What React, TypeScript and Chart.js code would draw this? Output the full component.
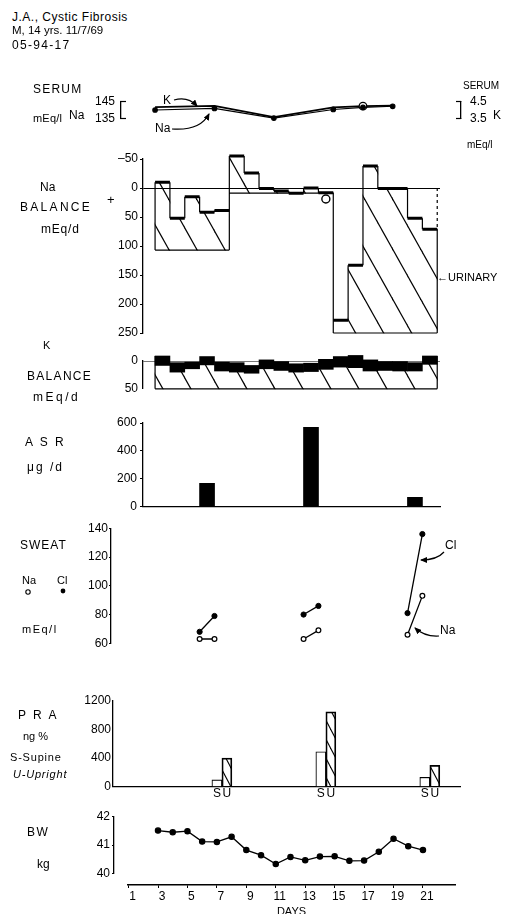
import React, { useEffect, useRef } from 'react';
import { Chart, registerables } from 'chart.js';

Chart.register(...registerables);

const W = 506;
const H = 914;
const FONT = '"Liberation Sans", "DejaVu Sans", Arial, sans-serif';

// ---------------- data ----------------
const SERUM_DAYS = [2.5, 6.5, 10.5, 14.5, 16.5, 18.5];
const SERUM_NA = [140.0, 140.9, 135.4, 140.3, 141.5, 142.1];
const SERUM_K = [4.16, 4.23, 3.6, 4.15, 4.22, 4.25];
const SERUM_CIRCLED = 4;
const SERUM_NA_TICKS = [135, 145];
const SERUM_K_TICKS = [3.5, 4.5];

const BAL_DAYS = [3, 4, 5, 6, 7, 8, 9, 10, 11, 12, 13, 14, 15, 16, 17, 18, 19, 20, 21];
const NA_TOP = [-10, 52, 15, 42, 39, -55, -26, 1, 5, 9, 0, 8, 228, 133, -38, 1, 1, 52, 71];
const NA_BOTTOM = [107, 107, 107, 107, 107, 9, 9, 9, 9, 9, 9, 9, 250, 250, 250, 250, 250, 250, 250];
const NA_MARK_DAYS = [14];
const NA_MARK_VALUES = [19];
const NA_TICKS = [-50, 0, 50, 100, 150, 200, 250];

const K_TOP = [-9, 3, 2, -8, 2, 3, 8, -2, 1, 5, 4, -3, -8, -10, -2, 1, 1, 3, -9];
const K_BOTTOM = [8, 20, 14, 7, 18, 20, 22, 14, 17, 20, 19, 15, 11, 12, 18, 17, 18, 18, 6];
const K_FLOOR = 50;
const K_TICKS = [0, 50];

const ASR_DAYS = [6, 13, 20];
const ASR_VALUES = [168, 569, 67];
const ASR_TICKS = [0, 200, 400, 600];

const SWEAT_DAYS = [5.5, 6.5, 12.5, 13.5, 19.5, 20.5];
const SWEAT_CL = [68, 79, 80, 86, 81, 136];
const SWEAT_NA = [63, 63, 63, 69, 66, 93];
const SWEAT_TICKS = [60, 80, 100, 120, 140];

const PRA_DAYS = [7, 14, 21];
const PRA_SUPINE = [95, 490, 130];
const PRA_UPRIGHT = [400, 1050, 300];
const PRA_TAGS = ['S', 'U'];
const PRA_TICKS = [0, 400, 800, 1200];

const BW_DAYS = [3, 4, 5, 6, 7, 8, 9, 10, 11, 12, 13, 14, 15, 16, 17, 18, 19, 20, 21];
const BW_KG = [41.51, 41.45, 41.49, 41.12, 41.11, 41.29, 40.82, 40.64, 40.33, 40.58, 40.46, 40.59, 40.6, 40.44, 40.45, 40.76, 41.22, 40.96, 40.82];
const BW_TICKS = [40, 41, 42];
const DAY_TICKS = [1, 3, 5, 7, 9, 11, 13, 15, 17, 19, 21];

// ---------------- layout ----------------
const MAIN = { x0: 162.5, xs: 14.85 };
const BWMAP = { x0: 158, xs: 14.72 };
const dayAt = (px: number, m: any) => 3 + (px - m.x0) / m.xs;

const G_SERUM = { top: 80, height: 60, left: 121, right: 461, plotTop: 100, plotBottom: 128, map: MAIN, rightAxis: true };
const G_NA = { top: 148, height: 197, left: 143, right: 440, plotTop: 159, plotBottom: 333, map: MAIN };
const G_K = { top: 348, height: 52, left: 143, right: 440, plotTop: 361, plotBottom: 390, map: MAIN };
const G_ASR = { top: 412, height: 106, left: 143, right: 440, plotTop: 423, plotBottom: 506.7, map: MAIN };
const G_SWEAT = { top: 518, height: 137, left: 111, right: 460, plotTop: 528.3, plotBottom: 643.3, map: MAIN };
const G_PRA = { top: 690, height: 112, left: 113, right: 460, plotTop: 701, plotBottom: 786.7, map: MAIN };
const G_BW = { top: 805, height: 79, left: 114, right: 460, plotTop: 816.7, plotBottom: 873.3, map: BWMAP };
const G_DAYS = { top: 875, height: 44, left: 128, right: 455, plotTop: 875, plotBottom: 885, map: BWMAP };

function makeHatch(w: number, h: number, lw: number) {
  const c = document.createElement('canvas');
  c.width = w;
  c.height = h;
  const ctx = c.getContext('2d')!;
  ctx.strokeStyle = '#000';
  ctx.lineWidth = lw;
  for (const k of [-1, 0, 1]) {
    ctx.beginPath();
    ctx.moveTo(k * w - w, -h);
    ctx.lineTo(k * w + 2 * w, 2 * h);
    ctx.stroke();
  }
  return ctx.createPattern(c, 'repeat')!;
}

function baseOptions(g: any, scales: any) {
  return {
    responsive: false,
    maintainAspectRatio: false,
    animation: false,
    events: [],
    layout: {
      padding: {
        left: 0,
        right: g.rightAxis ? 0 : W - g.right,
        top: g.plotTop - g.top,
        bottom: g.top + g.height - g.plotBottom,
      },
    },
    plugins: { legend: { display: false }, tooltip: { enabled: false }, title: { display: false } },
    scales,
  };
}

function yAxis(g: any, ticks: number[], o: any = {}) {
  return {
    type: 'linear',
    position: 'left',
    min: Math.min(...ticks),
    max: Math.max(...ticks),
    reverse: !!o.reverse,
    afterFit: (s: any) => { s.width = g.left; },
    afterBuildTicks: (s: any) => { s.ticks = ticks.map((v) => ({ value: v })); },
    border: { display: true, color: '#000', width: 1.3 },
    grid: o.grid || { drawOnChartArea: false, drawTicks: true, tickLength: o.tl ?? 3, tickColor: '#000', tickWidth: 1.2, color: '#000' },
    ticks: {
      color: '#000',
      font: { family: FONT, size: 12 },
      padding: o.pad ?? 2,
      callback: o.cb || ((v: number) => String(v)),
    },
  };
}

function xAxis(g: any, show = false) {
  return {
    type: 'linear',
    min: dayAt(g.left, g.map),
    max: dayAt(g.right, g.map),
    offset: false,
    display: show,
    afterFit: (s: any) => { s.height = 0; },
    ticks: { display: false },
    grid: { display: true, drawOnChartArea: false, drawTicks: false, offset: false, color: '#000' },
    border: { display: show, color: '#000', width: 1.3 },
  };
}

const lineDS = (data: any[], width: number, extra: any = {}) => ({
  type: 'line',
  data,
  borderColor: '#000',
  borderWidth: width,
  pointRadius: 0,
  fill: false,
  tension: 0,
  spanGaps: false,
  clip: false,
  ...extra,
});

const seg = (arr: any[], x1: number, y1: number, x2: number, y2: number) => {
  arr.push({ x: x1, y: y1 }, { x: x2, y: y2 }, { x: x2, y: null });
};

// ---------------- chart configs ----------------
function serumConfig() {
  const g = G_SERUM;
  return {
    type: 'line',
    data: {
      datasets: [
        lineDS(SERUM_DAYS.map((d, i) => ({ x: d, y: SERUM_K[i] })), 1.8, {
          yAxisID: 'yK',
          pointRadius: (c: any) => (c.dataIndex === SERUM_CIRCLED ? 3.8 : 0),
          pointBackgroundColor: '#fff',
          pointBorderColor: '#000',
          pointBorderWidth: 1.3,
          order: 1,
        }),
        lineDS(SERUM_DAYS.map((d, i) => ({ x: d, y: SERUM_NA[i] })), 1.1, {
          yAxisID: 'y',
          pointRadius: 2.3,
          pointBackgroundColor: '#000',
          pointBorderColor: '#000',
          order: 0,
        }),
      ],
    },
    options: baseOptions(g, {
      x: xAxis(g),
      y: yAxis(g, SERUM_NA_TICKS, { tl: -5, pad: 11 }),
      yK: {
        type: 'linear',
        position: 'right',
        min: 3.5,
        max: 4.5,
        afterFit: (s: any) => { s.width = W - g.right; },
        afterBuildTicks: (s: any) => { s.ticks = SERUM_K_TICKS.map((v) => ({ value: v })); },
        border: { display: true, color: '#000', width: 1.3 },
        grid: { drawOnChartArea: false, drawTicks: true, tickLength: -5, tickColor: '#000', tickWidth: 1.2 },
        ticks: { color: '#000', font: { family: FONT, size: 12 }, padding: 14, callback: (v: number) => v.toFixed(1) },
      },
    }),
  };
}

function naConfig() {
  const g = G_NA;
  const hatch = makeHatch(28, 50, 1.2);
  const n = BAL_DAYS.length;
  const bars = BAL_DAYS.map((d, i) => ({ x: d, y: [NA_TOP[i], NA_BOTTOM[i]] }));
  const tops: any[] = [];
  BAL_DAYS.forEach((d, i) => seg(tops, d - 0.5, NA_TOP[i], d + 0.5, NA_TOP[i]));
  const outline: any[] = [];
  let blockStart = 0;
  for (let i = 0; i < n; i++) {
    const d = BAL_DAYS[i];
    const first = i === 0 || NA_BOTTOM[i] !== NA_BOTTOM[i - 1];
    const last = i === n - 1 || NA_BOTTOM[i] !== NA_BOTTOM[i + 1];
    if (first) {
      blockStart = d - 0.5;
      const t = i === 0 ? NA_TOP[i] : Math.min(NA_TOP[i - 1], NA_TOP[i]);
      const b = i === 0 ? NA_BOTTOM[i] : Math.max(NA_BOTTOM[i - 1], NA_BOTTOM[i]);
      seg(outline, d - 0.5, t, d - 0.5, b);
    }
    if (!last) seg(outline, d + 0.5, NA_TOP[i], d + 0.5, NA_TOP[i + 1]);
    if (last) {
      seg(outline, blockStart, NA_BOTTOM[i], d + 0.5, NA_BOTTOM[i]);
      if (i === n - 1) seg(outline, d + 0.5, NA_TOP[i], d + 0.5, NA_BOTTOM[i]);
    }
  }
  const lastX = BAL_DAYS[n - 1] + 0.5;
  const dash = [{ x: lastX, y: 0 }, { x: lastX, y: NA_TOP[n - 1] }];
  return {
    type: 'bar',
    data: {
      datasets: [
        { type: 'bar', data: bars, backgroundColor: hatch, borderWidth: 0, barPercentage: 1, categoryPercentage: 1, grouped: false, clip: false, order: 5 },
        lineDS(outline, 1.2, { order: 3 }),
        lineDS(dash, 1.2, { borderDash: [3, 3], order: 3 }),
        lineDS(tops, 3, { order: 2 }),
        lineDS(NA_MARK_DAYS.map((d, i) => ({ x: d, y: NA_MARK_VALUES[i] })), 1.3, {
          showLine: false,
          pointRadius: 4,
          pointBackgroundColor: '#fff',
          pointBorderColor: '#000',
          pointBorderWidth: 1.4,
          order: 1,
        }),
      ],
    },
    options: baseOptions(g, {
      x: xAxis(g),
      y: yAxis(g, NA_TICKS, {
        reverse: true,
        cb: (v: number) => (v < 0 ? '–' + Math.abs(v) : String(v)),
        grid: {
          drawOnChartArea: true,
          drawTicks: true,
          tickLength: 3,
          tickColor: '#000',
          tickWidth: 1.2,
          lineWidth: 1,
          color: (c: any) => (c.tick && c.tick.value === 0 ? '#000' : 'rgba(0,0,0,0)'),
        },
      }),
    }),
  };
}

function kConfig() {
  const g = G_K;
  const hatch = makeHatch(28, 50, 1.2);
  const n = BAL_DAYS.length;
  const outline: any[] = [];
  const x1 = BAL_DAYS[0] - 0.5;
  const x2 = BAL_DAYS[n - 1] + 0.5;
  seg(outline, x1, K_TOP[0], x1, K_FLOOR);
  seg(outline, x1, K_FLOOR, x2, K_FLOOR);
  seg(outline, x2, K_TOP[n - 1], x2, K_FLOOR);
  return {
    type: 'bar',
    data: {
      datasets: [
        { type: 'bar', data: BAL_DAYS.map((d, i) => ({ x: d, y: [K_BOTTOM[i], K_FLOOR] })), backgroundColor: hatch, borderWidth: 0, barPercentage: 1, categoryPercentage: 1, grouped: false, clip: false, order: 5 },
        { type: 'bar', data: BAL_DAYS.map((d, i) => ({ x: d, y: [K_TOP[i], K_BOTTOM[i]] })), backgroundColor: '#000', borderWidth: 0, barPercentage: 1, categoryPercentage: 1, grouped: false, clip: false, order: 4 },
        lineDS(outline, 1.2, { order: 2 }),
      ],
    },
    options: baseOptions(g, {
      x: xAxis(g),
      y: yAxis(g, K_TICKS, {
        reverse: true,
        pad: 4,
        grid: {
          drawOnChartArea: true,
          drawTicks: true,
          tickLength: 1,
          tickColor: '#000',
          lineWidth: 0.8,
          color: (c: any) => (c.tick && c.tick.value === 0 ? '#555' : 'rgba(0,0,0,0)'),
        },
      }),
    }),
  };
}

function asrConfig() {
  const g = G_ASR;
  return {
    type: 'bar',
    data: {
      datasets: [
        { type: 'bar', data: ASR_DAYS.map((d, i) => ({ x: d, y: ASR_VALUES[i] })), backgroundColor: '#000', borderWidth: 0, barThickness: 15, grouped: false },
      ],
    },
    options: baseOptions(g, {
      x: xAxis(g, true),
      y: yAxis(g, ASR_TICKS, { tl: 3, pad: 3 }),
    }),
  };
}

function sweatConfig() {
  const g = G_SWEAT;
  const pairs = (vals: number[]) => {
    const out: any[] = [];
    SWEAT_DAYS.forEach((d, i) => {
      out.push({ x: d, y: vals[i] });
      if (i % 2 === 1) out.push({ x: d, y: null });
    });
    return out;
  };
  return {
    type: 'line',
    data: {
      datasets: [
        lineDS(pairs(SWEAT_CL), 1.3, { pointRadius: 2.6, pointBackgroundColor: '#000', pointBorderColor: '#000', pointBorderWidth: 1 }),
        lineDS(pairs(SWEAT_NA), 1.3, { pointRadius: 2.4, pointBackgroundColor: '#fff', pointBorderColor: '#000', pointBorderWidth: 1.2 }),
      ],
    },
    options: baseOptions(g, {
      x: xAxis(g),
      y: yAxis(g, SWEAT_TICKS, { tl: 2, pad: 1 }),
    }),
  };
}

function praConfig() {
  const g = G_PRA;
  const hatch = makeHatch(10, 19, 1.1);
  const tagPlugin = {
    id: 'praTags',
    afterDatasetsDraw(chart: any) {
      const ctx = chart.ctx;
      ctx.save();
      ctx.fillStyle = '#000';
      ctx.font = `12px ${FONT}`;
      ctx.textAlign = 'center';
      ctx.textBaseline = 'middle';
      chart.data.datasets.forEach((_: any, i: number) => {
        chart.getDatasetMeta(i).data.forEach((el: any) => {
          ctx.fillText(PRA_TAGS[i], el.x, chart.chartArea.bottom + 7);
        });
      });
      ctx.restore();
    },
  };
  return {
    type: 'bar',
    data: {
      datasets: [
        { data: PRA_DAYS.map((d, i) => ({ x: d, y: PRA_SUPINE[i] })), backgroundColor: '#fff', borderColor: '#000', borderWidth: 1.1, barThickness: 10 },
        { data: PRA_DAYS.map((d, i) => ({ x: d, y: PRA_UPRIGHT[i] })), backgroundColor: hatch, borderColor: '#000', borderWidth: 1.1, barThickness: 10 },
      ],
    },
    options: baseOptions(g, {
      x: xAxis(g, true),
      y: yAxis(g, PRA_TICKS, { tl: 1, pad: 1 }),
    }),
    plugins: [tagPlugin],
  };
}

function bwConfig() {
  const g = G_BW;
  return {
    type: 'line',
    data: {
      datasets: [
        lineDS(BW_DAYS.map((d, i) => ({ x: d, y: BW_KG[i] })), 1.3, { pointRadius: 2.6, pointBackgroundColor: '#000', pointBorderColor: '#000' }),
      ],
    },
    options: baseOptions(g, {
      x: xAxis(g),
      y: yAxis(g, BW_TICKS, { tl: 2, pad: 2 }),
    }),
  };
}

function daysConfig() {
  const g = G_DAYS;
  return {
    type: 'line',
    data: { datasets: [] },
    options: {
      responsive: false,
      maintainAspectRatio: false,
      animation: false,
      events: [],
      layout: { padding: { left: g.left, right: W - g.right, top: 0, bottom: 0 } },
      plugins: { legend: { display: false }, tooltip: { enabled: false } },
      scales: {
        x: {
          type: 'linear',
          min: dayAt(g.left, g.map),
          max: dayAt(g.right, g.map),
          offset: false,
          afterFit: (s: any) => { s.height = g.top + g.height - g.plotBottom; },
          afterBuildTicks: (s: any) => { s.ticks = DAY_TICKS.map((v) => ({ value: v })); },
          border: { display: true, color: '#000', width: 1.4 },
          grid: { drawOnChartArea: false, drawTicks: true, tickLength: 3, tickColor: '#000', tickWidth: 1 },
          ticks: { color: '#000', font: { family: FONT, size: 12 }, padding: 1, labelOffset: 4, autoSkip: false, maxRotation: 0 },
          title: { display: true, text: 'DAYS', color: '#000', font: { family: FONT, size: 11 }, padding: 0 },
        },
        y: { display: false, min: 0, max: 1 },
      },
    },
  };
}

// ---------------- components ----------------
function Panel({ g, make }: { g: any; make: () => any }) {
  const ref = useRef<HTMLCanvasElement>(null);
  useEffect(() => {
    const chart = new Chart(ref.current as HTMLCanvasElement, make());
    return () => chart.destroy();
  }, []);
  return (
    <canvas
      ref={ref}
      width={W}
      height={g.height}
      style={{ position: 'absolute', left: 0, top: g.top, width: W, height: g.height, display: 'block' }}
    />
  );
}

const LABELS: any[] = [
  { t: 'J.A., Cystic Fibrosis', x: 12, y: 17, s: 12, ls: 0.5 },
  { t: 'M, 14 yrs. 11/7/69', x: 12, y: 31, s: 11.5, ls: 0 },
  { t: '05-94-17', x: 12, y: 45, s: 12, ls: 1.3 },
  { t: 'SERUM', x: 33, y: 89, s: 12, ls: 1.2 },
  { t: 'mEq/l', x: 33, y: 119, s: 11, ls: 0.2 },
  { t: 'Na', x: 69, y: 115, s: 12 },
  { t: 'K', x: 163, y: 100, s: 12 },
  { t: 'Na', x: 155, y: 128, s: 12 },
  { t: 'SERUM', x: 463, y: 86, s: 10 },
  { t: 'K', x: 493, y: 115, s: 12 },
  { t: 'mEq/l', x: 467, y: 145, s: 10 },
  { t: 'Na', x: 40, y: 187, s: 12 },
  { t: 'BALANCE', x: 20, y: 207, s: 12, ls: 2.3 },
  { t: '+', x: 107, y: 200, s: 13 },
  { t: 'mEq/d', x: 41, y: 229, s: 12, ls: 0.8 },
  { t: '←URINARY', x: 437, y: 278, s: 11 },
  { t: 'K', x: 43, y: 346, s: 11 },
  { t: 'BALANCE', x: 27, y: 376, s: 12, ls: 1.3 },
  { t: 'mEq/d', x: 33, y: 397, s: 12, ls: 2.5 },
  { t: 'A S R', x: 25, y: 442, s: 12, ls: 2 },
  { t: 'μg /d', x: 27, y: 467, s: 12, ls: 2 },
  { t: 'SWEAT', x: 20, y: 545, s: 12, ls: 1 },
  { t: 'Na', x: 22, y: 581, s: 11 },
  { t: 'Cl', x: 57, y: 581, s: 11 },
  { t: 'mEq/l', x: 22, y: 630, s: 11, ls: 1.5 },
  { t: 'Cl', x: 445, y: 545, s: 12 },
  { t: 'Na', x: 440, y: 630, s: 12 },
  { t: 'P R A', x: 18, y: 715, s: 12, ls: 2 },
  { t: 'ng %', x: 23, y: 737, s: 11 },
  { t: 'S-Supine', x: 10, y: 758, s: 11, ls: 0.8 },
  { t: 'U-Upright', x: 13, y: 775, s: 11, ls: 0.8, it: true },
  { t: 'BW', x: 27, y: 832, s: 12, ls: 1.5 },
  { t: 'kg', x: 37, y: 864, s: 12 },
];

const ARROWS = [
  'M174 100 Q 188 96 197 106',
  'M172 129 Q 200 131 209 114',
  'M444 552 Q 437 560 421 560',
  'M439 636 Q 425 637 415 628',
];

export default function App() {
  return (
    <div style={{ position: 'fixed', left: 0, top: 0, width: W, height: H, overflow: 'hidden', background: '#fff' }}>
      <Panel g={G_SERUM} make={serumConfig} />
      <Panel g={G_NA} make={naConfig} />
      <Panel g={G_K} make={kConfig} />
      <Panel g={G_ASR} make={asrConfig} />
      <Panel g={G_SWEAT} make={sweatConfig} />
      <Panel g={G_PRA} make={praConfig} />
      <Panel g={G_BW} make={bwConfig} />
      <Panel g={G_DAYS} make={daysConfig} />
      {LABELS.map((l, i) => (
        <div
          key={i}
          style={{
            position: 'absolute',
            left: l.x,
            top: l.y - l.s * 0.6,
            fontSize: l.s,
            lineHeight: `${l.s * 1.2}px`,
            fontFamily: FONT,
            letterSpacing: l.ls ? `${l.ls}px` : undefined,
            fontStyle: l.it ? 'italic' : 'normal',
            color: '#000',
            whiteSpace: 'pre',
          }}
        >
          {l.t}
        </div>
      ))}
      <svg width={W} height={H} style={{ position: 'absolute', left: 0, top: 0, pointerEvents: 'none' }}>
        <defs>
          <marker id="ah" markerWidth="7" markerHeight="6" refX="6" refY="3" orient="auto" markerUnits="userSpaceOnUse">
            <path d="M0,0 L7,3 L0,6 z" fill="#000" />
          </marker>
        </defs>
        {ARROWS.map((d, i) => (
          <path key={i} d={d} stroke="#000" strokeWidth={1.2} fill="none" markerEnd="url(#ah)" />
        ))}
        <circle cx={28} cy={592} r={2.2} fill="#fff" stroke="#000" strokeWidth={1.1} />
        <circle cx={63} cy={591} r={2.4} fill="#000" />
      </svg>
    </div>
  );
}
